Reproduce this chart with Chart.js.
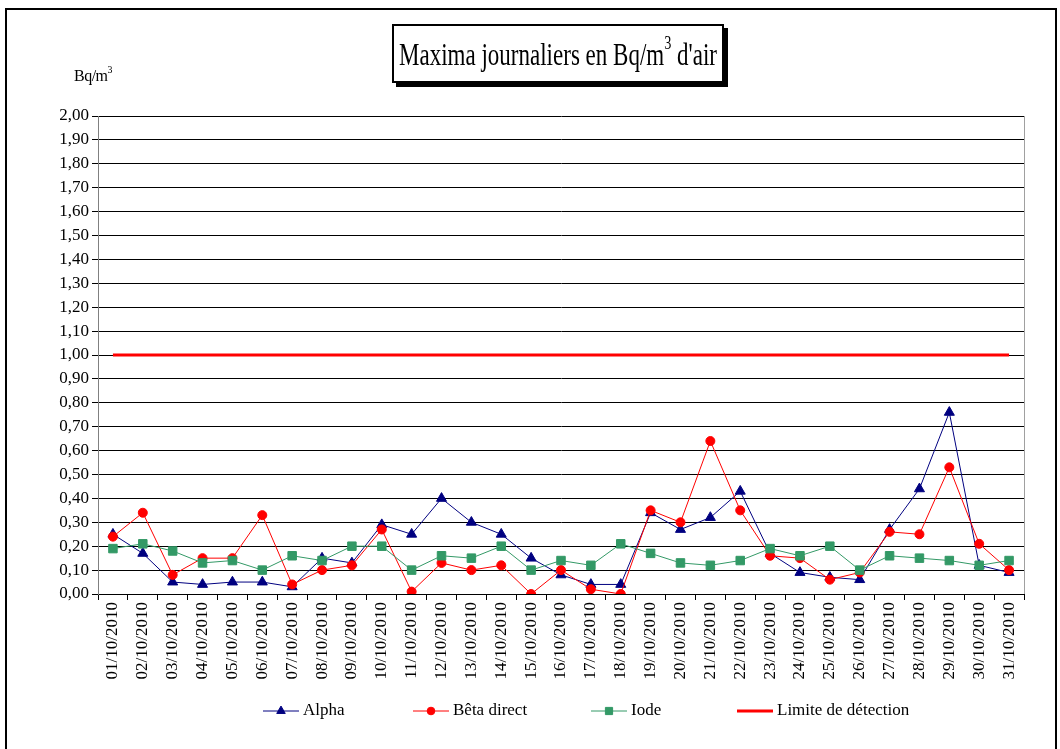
<!DOCTYPE html>
<html>
<head>
<meta charset="utf-8">
<script src="https://cdn.jsdelivr.net/npm/chart.js@4/dist/chart.umd.min.js"></script>
<style>
  body { margin: 0; background: #fff; font-family: 'Liberation Serif', serif; }
  #wrap { position: relative; width: 1060px; height: 749px; overflow: hidden; }
  #frame { position: absolute; left: 5px; top: 8px; width: 1048px; height: 760px; border: 2px solid #000; }
  #titre { position: absolute; left: 392px; top: 24px; width: 328px; height: 55px; border: 2px solid #000;
           background: #fff; box-shadow: 4px 4px 0 #000; }
  #titre span { position: absolute; left: 50%; top: 50%; white-space: nowrap; font-size: 32px; color: #000; }
  #unite { position: absolute; left: 74px; top: 66px; font-size: 16px; color: #000; letter-spacing: -0.5px; }
  sup { font-size: 0.62em; position: relative; top: -0.2em; }
  canvas { position: absolute; left: 0; top: 0; }
</style>
</head>
<body>
<div id="wrap">
  <div id="frame"></div>
  <canvas id="graphique" width="1060" height="749"></canvas>
  <div id="titre"><span id="titreTexte">Maxima journaliers en Bq/m<sup>3</sup> d'air</span></div>
  <div id="unite">Bq/m<sup>3</sup></div>
</div>
<script>
  const jours = ['01/10/2010', '02/10/2010', '03/10/2010', '04/10/2010', '05/10/2010', '06/10/2010',
    '07/10/2010', '08/10/2010', '09/10/2010', '10/10/2010', '11/10/2010', '12/10/2010', '13/10/2010',
    '14/10/2010', '15/10/2010', '16/10/2010', '17/10/2010', '18/10/2010', '19/10/2010', '20/10/2010',
    '21/10/2010', '22/10/2010', '23/10/2010', '24/10/2010', '25/10/2010', '26/10/2010', '27/10/2010',
    '28/10/2010', '29/10/2010', '30/10/2010', '31/10/2010'];

  const alpha = [0.25, 0.17, 0.05, 0.04, 0.05, 0.05, 0.03, 0.15, 0.13, 0.29, 0.25, 0.40, 0.30, 0.25,
    0.15, 0.08, 0.04, 0.04, 0.34, 0.27, 0.32, 0.43, 0.17, 0.09, 0.07, 0.06, 0.27, 0.44, 0.76, 0.12, 0.09];
  const betaDirect = [0.24, 0.34, 0.08, 0.15, 0.15, 0.33, 0.04, 0.10, 0.12, 0.27, 0.01, 0.13, 0.10, 0.12,
    0.00, 0.10, 0.02, 0.00, 0.35, 0.30, 0.64, 0.35, 0.16, 0.15, 0.06, 0.09, 0.26, 0.25, 0.53, 0.21, 0.10];
  const iode = [0.19, 0.21, 0.18, 0.13, 0.14, 0.10, 0.16, 0.14, 0.20, 0.20, 0.10, 0.16, 0.15, 0.20,
    0.10, 0.14, 0.12, 0.21, 0.17, 0.13, 0.12, 0.14, 0.19, 0.16, 0.20, 0.10, 0.16, 0.15, 0.14, 0.12, 0.14];
  const limiteDetection = [1.00, 1.00, 1.00, 1.00, 1.00, 1.00, 1.00, 1.00, 1.00, 1.00, 1.00, 1.00, 1.00,
    1.00, 1.00, 1.00, 1.00, 1.00, 1.00, 1.00, 1.00, 1.00, 1.00, 1.00, 1.00, 1.00, 1.00, 1.00, 1.00, 1.00, 1.00];

  const graduations = [0.00, 0.10, 0.20, 0.30, 0.40, 0.50, 0.60, 0.70, 0.80, 0.90, 1.00,
    1.10, 1.20, 1.30, 1.40, 1.50, 1.60, 1.70, 1.80, 1.90, 2.00];

  // titre un peu condense comme dans l'original
  const t = document.getElementById('titreTexte');
  const sx = 318 / t.getBoundingClientRect().width;
  t.style.transform = 'translate(-50%, -50%) scaleX(' + sx + ')';

  const police = { family: "'Liberation Serif', serif", size: 17 };

  // legende dessinee a la main : trait + marqueur
  const legendePos = [263, 413, 591, 737];
  const legendeTrait = {
    id: 'legendeTrait',
    afterDraw(chart) {
      const ctx = chart.ctx;
      const y = 711;
      ctx.save();
      chart.data.datasets.forEach((ds, i) => {
        const x = legendePos[i];
        ctx.strokeStyle = ds.borderColor;
        ctx.lineWidth = ds.borderWidth;
        ctx.beginPath();
        ctx.moveTo(x, y);
        ctx.lineTo(x + 36, y);
        ctx.stroke();
        if (ds.pointRadius > 0) {
          ctx.fillStyle = ds.pointBackgroundColor;
          ctx.strokeStyle = ds.pointBorderColor;
          ctx.lineWidth = 1;
          Chart.helpers.drawPoint(ctx, { pointStyle: ds.pointStyle, radius: ds.pointRadius * 0.85, rotation: 0, borderWidth: 1 }, x + 18, y);
        }
        ctx.fillStyle = '#000';
        ctx.font = "17px 'Liberation Serif', serif";
        ctx.textBaseline = 'middle';
        ctx.textAlign = 'left';
        ctx.fillText(ds.label, x + 40, y);
      });
      ctx.restore();
    }
  };

  const ctx = document.getElementById('graphique').getContext('2d');
  new Chart(ctx, {
    type: 'line',
    data: {
      labels: jours,
      datasets: [{
        label: 'Alpha',
        data: alpha,
        borderColor: '#000080',
        borderWidth: 1,
        pointStyle: 'triangle',
        pointRadius: 5.8,
        pointBackgroundColor: '#000080',
        pointBorderColor: '#000080',
        tension: 0,
        order: 2
      }, {
        label: 'Bêta direct',
        data: betaDirect,
        borderColor: '#ff0000',
        borderWidth: 1,
        pointStyle: 'circle',
        pointRadius: 4.5,
        pointBackgroundColor: '#ff0000',
        pointBorderColor: '#ff0000',
        tension: 0,
        order: 1
      }, {
        label: 'Iode',
        data: iode,
        borderColor: '#339966',
        borderWidth: 1,
        pointStyle: 'rect',
        pointRadius: 6,
        pointBackgroundColor: '#339966',
        pointBorderColor: '#339966',
        tension: 0,
        order: 0
      }, {
        label: 'Limite de détection',
        data: limiteDetection,
        borderColor: '#ff0000',
        borderWidth: 3,
        pointRadius: 0,
        tension: 0,
        order: 3
      }]
    },
    options: {
      responsive: false,
      animation: false,
      layout: { padding: { left: 0, top: 116, right: 36, bottom: 0 } },
      plugins: {
        legend: { display: false },
        tooltip: { enabled: false }
      },
      scales: {
        x: {
          offset: true,
          afterFit: s => { s.height = 155; },
          grid: { offset: true, drawOnChartArea: false, drawTicks: true, tickLength: 6, color: '#000' },
          border: { color: '#000', width: 1 },
          ticks: { color: '#000', font: police, minRotation: 90, maxRotation: 90, autoSkip: false, padding: 2 }
        },
        y: {
          min: 0,
          max: 2,
          afterFit: s => { s.width = 98; },
          afterBuildTicks: s => { s.ticks = graduations.map(v => ({ value: v })); },
          grid: { color: '#000', lineWidth: 1, tickLength: 6 },
          border: { color: '#808080', width: 1 },
          ticks: {
            color: '#000',
            font: police,
            padding: 3,
            callback: v => v.toFixed(2).replace('.', ',')
          }
        }
      }
    },
    plugins: [legendeTrait, {
      id: 'bordDroit',
      afterDraw(chart) {
        const a = chart.chartArea, c = chart.ctx;
        c.save();
        c.strokeStyle = '#a0a0a0';
        c.lineWidth = 1;
        c.beginPath();
        c.moveTo(a.right + 0.5, a.top);
        c.lineTo(a.right + 0.5, a.bottom);
        c.stroke();
        c.restore();
      }
    }]
  });
</script>
</body>
</html>
